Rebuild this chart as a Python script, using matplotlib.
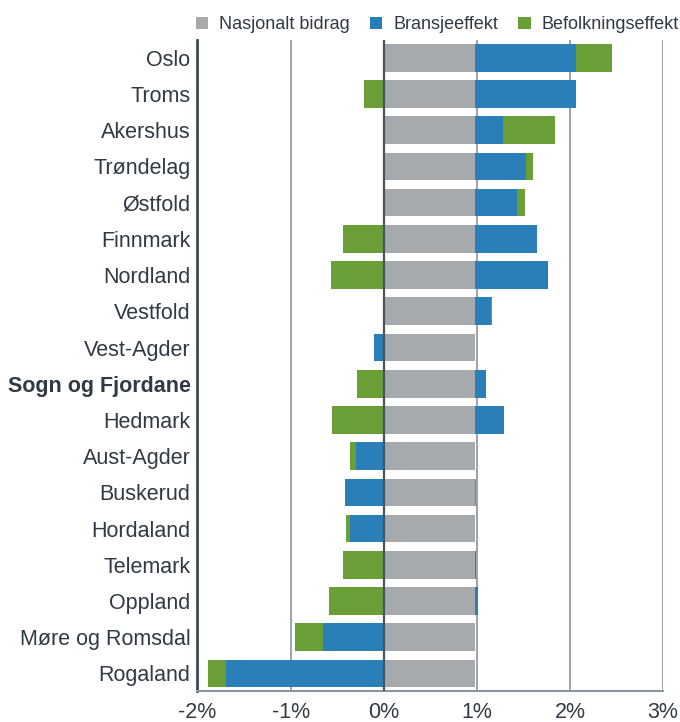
import numpy as np
import matplotlib.pyplot as plt

plt.rcParams['font.family'] = ['Liberation Sans', 'DejaVu Sans']

fylker = ['Oslo', 'Troms', 'Akershus', 'Trøndelag', 'Østfold', 'Finnmark',
          'Nordland', 'Vestfold', 'Vest-Agder', 'Sogn og Fjordane', 'Hedmark',
          'Aust-Agder', 'Buskerud', 'Hordaland', 'Telemark', 'Oppland',
          'Møre og Romsdal', 'Rogaland']

# prosentpoeng
nasjonalt = [0.98] * len(fylker)
bransje = [1.085, 1.085, 0.30, 0.548, 0.451, 0.666, 0.784, 0.172, -0.100, 0.118,
           0.312, -0.297, -0.415, -0.362, 0.014, 0.032, -0.652, -1.694]
befolkning = [0.387, -0.211, 0.559, 0.075, 0.086, -0.437, -0.566, 0.011, -0.007,
              -0.287, -0.555, -0.064, 0.014, -0.043, -0.437, -0.587, -0.301, -0.193]

grey = '#a7aaad'
blue = '#2a7fb8'
green = '#6a9f38'
txt = '#2f3a44'

fig = plt.figure(figsize=(6.8, 7.22), dpi=100)
ax = fig.add_axes([0.2904, 0.0436, 0.975 - 0.2904, 0.9446 - 0.0436])

y = np.arange(len(fylker))
h = 0.765

# stack positive og negative hver for seg
pos = np.zeros(len(fylker))
neg = np.zeros(len(fylker))
for vals, col, lab in [(nasjonalt, grey, 'Nasjonalt bidrag'),
                       (bransje, blue, 'Bransjeeffekt'),
                       (befolkning, green, 'Befolkningseffekt')]:
    vals = np.array(vals)
    left = np.where(vals >= 0, pos, neg)
    ax.barh(y, vals, height=h, left=left, color=col, label=lab, zorder=2)
    pos = pos + np.where(vals >= 0, vals, 0)
    neg = neg + np.where(vals < 0, vals, 0)

for gx in [-1, 1, 2, 3]:
    ax.axvline(gx, color='#8a959e', lw=1.2, zorder=1)
ax.axvline(0, color='#4a555e', lw=1.6, zorder=3)

ax.set_xlim(-2, 3)
ax.set_ylim(17.47, -0.49)
ax.set_xticks([-2, -1, 0, 1, 2, 3])
ax.set_xticklabels(['-2%', '-1%', '0%', '1%', '2%', '3%'])
ax.set_yticks(y)
ax.set_yticklabels(fylker)
ax.tick_params(length=0, labelsize=15.5, colors=txt)
ax.tick_params(axis='y', pad=5)
ax.tick_params(axis='x', pad=8)
for lbl in ax.get_yticklabels():
    if lbl.get_text() == 'Sogn og Fjordane':
        lbl.set_fontweight('bold')

for s in ['top', 'right']:
    ax.spines[s].set_visible(False)
ax.spines['left'].set_color('#3d4a55')
ax.spines['left'].set_linewidth(2)
ax.spines['bottom'].set_color('#8a959e')
ax.spines['bottom'].set_linewidth(1.5)

leg = fig.legend(loc='upper center', bbox_to_anchor=(0.643, 1.0), ncol=3,
                 frameon=False, fontsize=13, handlelength=0.7, handleheight=0.7,
                 handletextpad=0.6, columnspacing=1.1)
for t in leg.get_texts():
    t.set_color(txt)

fig.savefig('out.png', dpi=100)
